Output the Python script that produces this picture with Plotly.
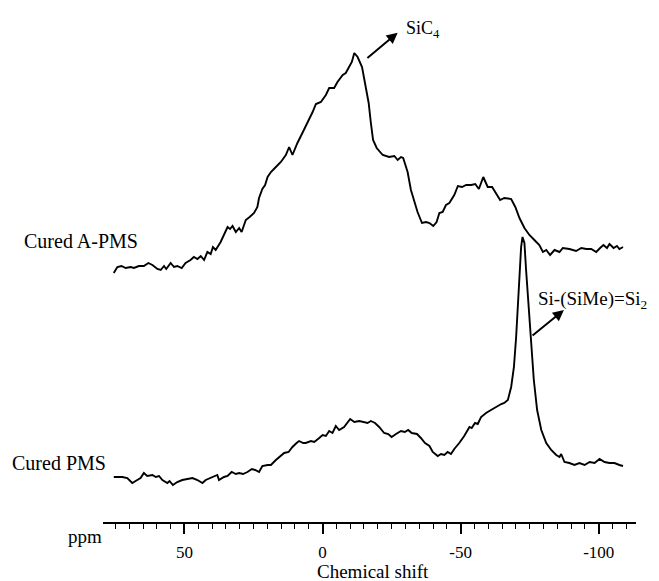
import plotly.graph_objects as go

# ---- data (chemical shift in ppm, intensity in a.u.) ----
apms_ppm = [75.6, 74.3, 72.8, 71.3, 69.5, 68.3, 66.5, 64.7, 63.1, 61.6, 59.8, 58.6, 57.4, 56.6, 55.0, 53.8,
            52.6, 51.0, 49.6, 47.8, 46.6, 45.3, 44.1, 42.9, 41.7, 40.5, 39.7, 38.7, 36.9, 35.3, 34.4, 33.5,
            32.6, 31.4, 30.2, 29.3, 27.8, 26.4, 24.8, 23.6, 23.0, 21.8, 20.8, 19.9, 18.7, 16.9, 15.1, 13.3,
            12.1, 10.9, 9.1, 7.3, 5.4, 3.6, 2.4, 0.6, -1.2, -2.4, -4.2, -5.4, -7.3, -8.4, -9.6, -10.6,
            -11.5, -12.7, -14.3, -15.4, -16.7, -17.5, -18.3, -19.6, -21.8, -24.1, -26.0, -27.2, -28.4, -29.2,
            -30.8, -32.0, -33.2, -34.4, -36.0, -37.5, -38.7, -40.1, -41.3, -42.3, -43.5, -44.7, -45.9, -47.7,
            -49.0, -50.5, -52.0, -53.8, -55.3, -56.6, -58.2, -59.8, -61.4, -62.8, -64.3, -65.8, -68.3, -69.8,
            -71.3, -73.1, -74.9, -76.7, -78.5, -79.8, -81.0, -82.4, -84.0, -85.8, -87.0, -89.4, -91.8, -93.7,
            -95.5, -97.3, -99.1, -100.5, -101.7, -103.0, -103.9, -105.4, -106.6, -107.5, -108.8]
apms_int = [-1, 5, 6, 4, 5, 4, 6, 6, 9, 7, 3, 2, 6, 3, 9, 5,
            6, 4, 9, 12, 15, 13, 16, 12, 20, 18, 25, 22, 30, 39, 45, 43,
            46, 40, 44, 40, 52, 55, 59, 65, 74, 83, 87, 95, 100, 105, 110, 117,
            125, 117, 129, 139, 149, 160, 168, 170, 177, 184, 184, 190, 197, 199, 205, 210,
            219, 215, 205, 189, 169, 149, 132, 124, 117, 115, 116, 112, 115, 114,
            100, 82, 70, 60, 49, 50, 49, 46, 50, 59, 60, 67, 69, 77,
            86, 85, 87, 87, 88, 83, 95, 85, 85, 79, 72, 74, 73, 65,
            54, 44, 37, 32, 27, 20, 22, 17, 22, 20, 24, 23, 21, 24,
            23, 23, 20, 24, 27, 24, 28, 24, 26, 23, 25]

pms_ppm = [75.6, 72.5, 70.7, 68.9, 67.1, 65.9, 64.7, 63.5, 61.6, 60.4, 59.2, 58.0, 56.2, 55.4, 54.2, 52.6,
           50.8, 49.0, 47.1, 45.3, 43.5, 42.3, 40.5, 39.3, 38.1, 37.5, 35.7, 34.4, 32.9, 31.4, 30.2, 28.8,
           27.2, 25.6, 24.4, 23.0, 21.8, 19.9, 18.7, 16.9, 15.7, 13.9, 12.3, 10.9, 9.4, 8.5, 7.0, 6.1,
           4.2, 3.0, 1.2, 0.0, -1.2, -2.4, -3.6, -4.8, -6.0, -7.8, -10.0, -11.5, -13.3, -15.1,
           -16.3, -17.5, -19.0, -20.5, -22.3, -23.8, -25.0, -26.6, -28.4, -29.8, -31.0, -32.3, -34.2, -35.6,
           -37.1, -38.7, -39.9, -41.7, -42.9, -44.1, -45.3, -46.5, -47.7, -49.5, -51.3, -53.2, -54.0, -55.2,
           -56.2, -57.4, -59.2, -61.0, -62.8, -64.7, -65.8, -67.1, -68.3, -69.3, -70.1, -70.7, -71.3, -71.9,
           -72.4, -73.1, -73.7, -74.6, -75.5, -76.5, -77.7, -79.2, -81.0, -82.8, -84.6, -85.8, -86.4, -87.6,
           -89.4, -91.2, -93.0, -94.9, -96.7, -98.5, -100.3, -102.1, -103.9, -105.7, -107.5, -108.8]
pms_int = [8, 8, 7, 2, 5, 7, 12, 9, 10, 8, 9, 5, 2, 4, 0, 3,
           5, 6, 7, 5, 2, 5, 7, 9, 10, 5, 8, 9, 13, 11, 12, 11,
           13, 16, 15, 13, 19, 20, 20, 25, 28, 32, 33, 38, 42, 44, 42, 42,
           44, 43, 47, 50, 49, 54, 52, 59, 55, 58, 66, 63, 64, 63,
           62, 64, 62, 58, 52, 51, 48, 51, 54, 53, 55, 52, 51, 47,
           42, 39, 33, 29, 31, 30, 33, 31, 36, 42, 49, 58, 57, 62,
           61, 68, 72, 75, 78, 81, 82, 85, 98, 118, 148, 182, 215, 238,
           248, 242, 215, 178, 138, 105, 75, 55, 42, 35, 30, 28, 31, 23,
           22, 20, 22, 20, 23, 22, 26, 23, 22, 22, 20, 19]

sample_labels = ["Cured A-PMS", "Cured PMS"]
tick_values = [50, 0, -50, -100]
tick_labels = ["50", "0", "-50", "-100"]

# vertical stacking offsets of the two spectra
OFFSET_APMS = 250
OFFSET_PMS = 37

FONT = "Liberation Serif"

fig = go.Figure()
fig.add_trace(go.Scatter(x=apms_ppm, y=[v + OFFSET_APMS for v in apms_int], mode="lines",
                         line=dict(color="black", width=1.9), name=sample_labels[0], showlegend=False))
fig.add_trace(go.Scatter(x=pms_ppm, y=[v + OFFSET_PMS for v in pms_int], mode="lines",
                         line=dict(color="black", width=1.9), name=sample_labels[1], showlegend=False))

PLOT_H = 522.0
PLOT_L = 103.0
PLOT_W = 533.0

def px(xp):
    return (xp - PLOT_L) / PLOT_W

def py(yp):
    return (PLOT_H - yp) / PLOT_H

annotations = [
    dict(text=sample_labels[0], xref="paper", yref="paper", x=px(22), y=py(241), xanchor="left",
         yanchor="middle", showarrow=False, font=dict(family=FONT, size=20, color="black")),
    dict(text=sample_labels[1], xref="paper", yref="paper", x=px(10), y=py(463), xanchor="left",
         yanchor="middle", showarrow=False, font=dict(family=FONT, size=20, color="black")),
    dict(text="ppm", xref="paper", yref="paper", x=px(104), y=py(536), xanchor="right",
         yanchor="middle", showarrow=False, font=dict(family=FONT, size=19, color="black")),
    dict(text="Chemical shift", xref="paper", yref="paper", x=px(373), y=py(571), xanchor="center",
         yanchor="middle", showarrow=False, font=dict(family=FONT, size=19, color="black")),
    dict(text="SiC<sub>4</sub>", xref="paper", yref="paper", x=px(404), y=py(29), xanchor="left",
         yanchor="middle", showarrow=False, font=dict(family=FONT, size=18, color="black")),
    dict(text="Si-(SiMe)=Si<sub>2</sub>", xref="paper", yref="paper", x=px(536), y=py(300),
         xanchor="left", yanchor="middle", showarrow=False,
         font=dict(family=FONT, size=19, color="black")),
    # arrows
    dict(text="", xref="x", yref="y", x=-27.2, y=489.3, axref="x", ayref="y", ax=-15.7, ay=462.7,
         showarrow=True, arrowhead=2, arrowsize=1.1, arrowwidth=2, arrowcolor="black"),
    dict(text="", xref="x", yref="y", x=-87.4, y=212, axref="x", ayref="y", ax=-75.5, ay=185.3,
         showarrow=True, arrowhead=2, arrowsize=1.1, arrowwidth=2, arrowcolor="black"),
]

fig.update_layout(
    width=659, height=581,
    margin=dict(l=103, r=23, t=0, b=59),
    paper_bgcolor="white", plot_bgcolor="white",
    showlegend=False,
    annotations=annotations,
    xaxis=dict(range=[79.5, -113.5], tickvals=tick_values, ticktext=tick_labels,
               ticks="outside", ticklen=10, tickwidth=1.6, tickcolor="black",
               showline=True, linecolor="black", linewidth=2, showgrid=False, zeroline=False,
               tickfont=dict(family=FONT, size=17, color="black"), ticklabelstandoff=4,
               minor=dict(dtick=5, tick0=0, ticks="outside", ticklen=5, tickwidth=1.4,
                          tickcolor="black", showgrid=False)),
    yaxis=dict(range=[0, PLOT_H], visible=False, showgrid=False, zeroline=False),
)

fig.write_html("out.html")
